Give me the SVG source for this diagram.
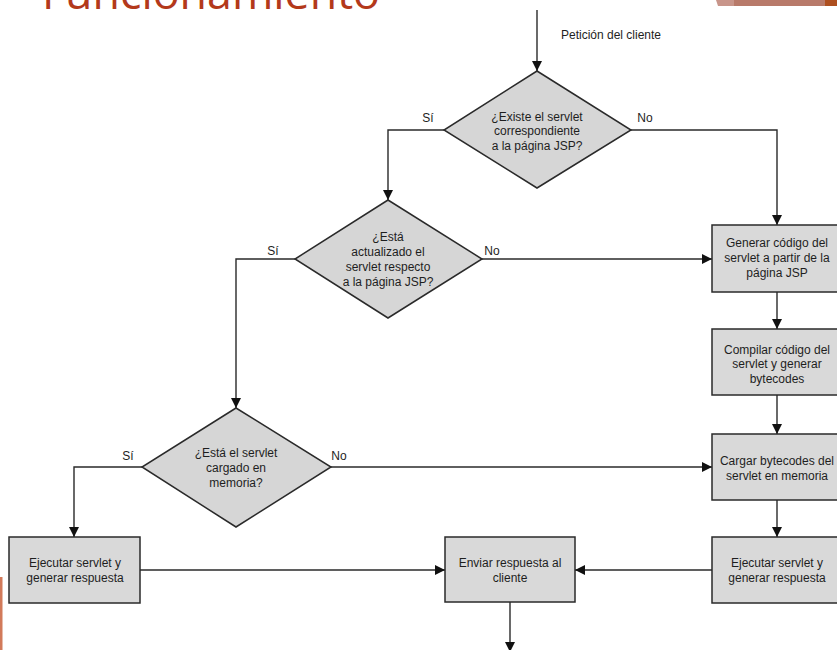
<svg xmlns="http://www.w3.org/2000/svg" width="837" height="650" viewBox="0 0 837 650">
<style>
.t{font-family:"Liberation Sans",Arial,sans-serif;font-size:12px;fill:#1e1e1e;text-anchor:middle}
.l{font-family:"Liberation Sans",Arial,sans-serif;font-size:12px;fill:#1e1e1e;text-anchor:middle}
.box{fill:#d9d9d9;stroke:#2a2a2a;stroke-width:1.5}
.dia{fill:#d6d6d6;stroke:#2a2a2a;stroke-width:1.5}
.c{fill:none;stroke:#2a2a2a;stroke-width:1.4}
</style>
<defs>
<marker id="ah" viewBox="0 0 10 10" refX="10" refY="5" markerWidth="10" markerHeight="10" markerUnits="userSpaceOnUse" orient="auto">
<path d="M0,0 L10,5 L0,10 z" fill="#111"/>
</marker>
</defs>
<rect width="837" height="650" fill="#ffffff"/>
<g id="title">
<text x="42" y="9" font-family="'Open Sans','Noto Sans',sans-serif" font-size="44" fill="#b3391b" textLength="338" lengthAdjust="spacingAndGlyphs">Funcionamiento</text>
</g>
<g id="decor">
<polygon points="716,0 734,0 734,6 718,6" fill="#c8958a"/>
<rect x="734" y="0" width="91" height="6" fill="#b87a6a"/>
<rect x="825" y="0" width="12" height="6" fill="#ae4f1f"/>
<rect x="0" y="577" width="2.5" height="73" fill="#d27a5a"/>
</g>
<g id="connectors">
<line class="c" x1="537" y1="10" x2="537" y2="71" marker-end="url(#ah)"/>
<polyline class="c" points="444,130 388,130 388,200" marker-end="url(#ah)"/>
<polyline class="c" points="631,130 777,130 777,225" marker-end="url(#ah)"/>
<polyline class="c" points="295,259 236,259 236,408" marker-end="url(#ah)"/>
<line class="c" x1="482" y1="259" x2="712" y2="259" marker-end="url(#ah)"/>
<line class="c" x1="777" y1="292" x2="777" y2="329" marker-end="url(#ah)"/>
<line class="c" x1="777" y1="395" x2="777" y2="434" marker-end="url(#ah)"/>
<polyline class="c" points="142,467 74,467 74,537" marker-end="url(#ah)"/>
<line class="c" x1="331" y1="467" x2="712" y2="467" marker-end="url(#ah)"/>
<line class="c" x1="777" y1="500" x2="777" y2="537" marker-end="url(#ah)"/>
<line class="c" x1="140" y1="570" x2="445" y2="570" marker-end="url(#ah)"/>
<line class="c" x1="712" y1="570" x2="575" y2="570" marker-end="url(#ah)"/>
<line class="c" x1="510" y1="602" x2="510" y2="652" marker-end="url(#ah)"/>
<text class="l" x="611" y="39">Petición del cliente</text>
<text class="l" x="428" y="122">Sí</text>
<text class="l" x="645" y="122">No</text>
<text class="l" x="273" y="255">Sí</text>
<text class="l" x="492" y="255">No</text>
<text class="l" x="128" y="460">Sí</text>
<text class="l" x="339" y="460">No</text>
</g>
<g id="d1">
<polygon class="dia" points="537,71 631,130 537,188 444,130"/>
<text class="t" x="537" y="121">¿Existe el servlet</text>
<text class="t" x="537" y="135">correspondiente</text>
<text class="t" x="537" y="150">a la página JSP?</text>
</g>
<g id="d2">
<polygon class="dia" points="388,200 482,259 388,318 295,259"/>
<text class="t" x="388" y="241">¿Está</text>
<text class="t" x="388" y="256">actualizado el</text>
<text class="t" x="388" y="271">servlet respecto</text>
<text class="t" x="388" y="286">a la página JSP?</text>
</g>
<g id="d3">
<polygon class="dia" points="236,408 331,467 236,527 142,467"/>
<text class="t" x="236" y="457">¿Está el servlet</text>
<text class="t" x="236" y="472">cargado en</text>
<text class="t" x="236" y="487">memoria?</text>
</g>
<g id="bGenerar">
<rect class="box" x="712" y="225" width="130" height="67"/>
<text class="t" x="777" y="247">Generar código del</text>
<text class="t" x="777" y="262">servlet a partir de la</text>
<text class="t" x="777" y="277">página JSP</text>
</g>
<g id="bCompilar">
<rect class="box" x="712" y="329" width="130" height="66"/>
<text class="t" x="777" y="354">Compilar código del</text>
<text class="t" x="777" y="368">servlet y generar</text>
<text class="t" x="777" y="383">bytecodes</text>
</g>
<g id="bCargar">
<rect class="box" x="712" y="434" width="130" height="66"/>
<text class="t" x="777" y="465">Cargar bytecodes del</text>
<text class="t" x="777" y="480">servlet en memoria</text>
</g>
<g id="bEjecutarR">
<rect class="box" x="712" y="537" width="130" height="66"/>
<text class="t" x="777" y="567">Ejecutar servlet y</text>
<text class="t" x="777" y="582">generar respuesta</text>
</g>
<g id="bEjecutarL">
<rect class="box" x="9" y="537" width="131" height="66"/>
<text class="t" x="75" y="567">Ejecutar servlet y</text>
<text class="t" x="75" y="582">generar respuesta</text>
</g>
<g id="bEnviar">
<rect class="box" x="445" y="537" width="130" height="65"/>
<text class="t" x="510" y="567">Enviar respuesta al</text>
<text class="t" x="510" y="582">cliente</text>
</g>
</svg>
